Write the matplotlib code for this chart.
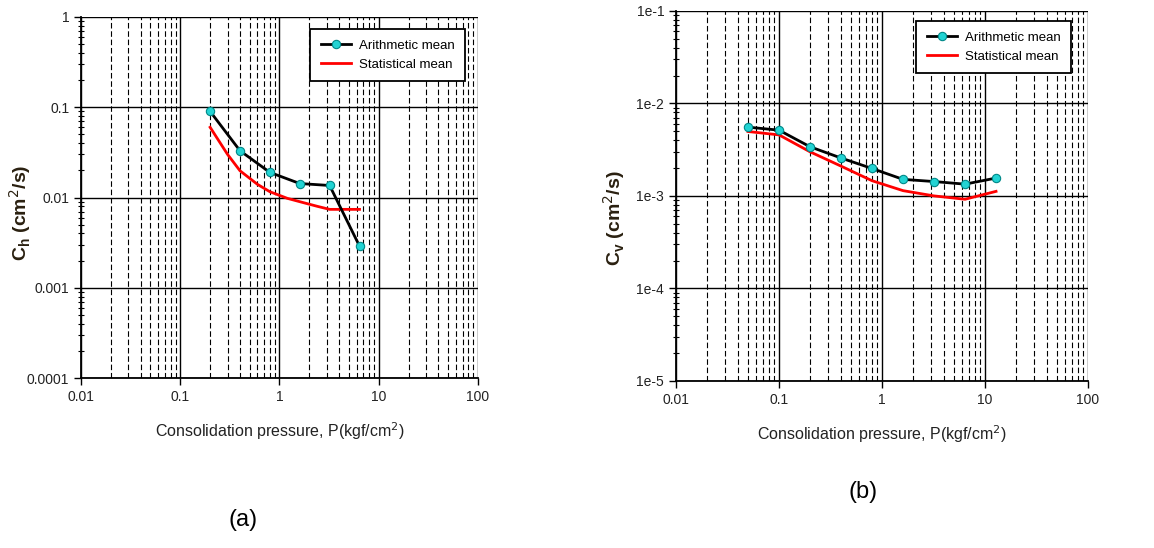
import matplotlib
matplotlib.use("Agg")
import matplotlib.pyplot as plt
from matplotlib.ticker import LogLocator, NullFormatter

plt.rcParams['font.family'] = ['Liberation Sans', 'DejaVu Sans']

# ---- data (a) ----
pa_arith = [0.2, 0.4, 0.8, 1.6, 3.2, 6.4]
ch_arith = [0.090, 0.033, 0.019, 0.0143, 0.0136, 0.0029]
pa_stat = [0.2, 0.3, 0.4, 0.6, 0.8, 1.2, 1.6, 2.4, 3.2, 4.5, 6.4]
ch_stat = [0.060, 0.030, 0.0198, 0.0140, 0.0116, 0.0098, 0.0090, 0.0080, 0.0074, 0.0074, 0.0074]

# ---- data (b) ----
pb = [0.05, 0.1, 0.2, 0.4, 0.8, 1.6, 3.2, 6.4, 12.8]
cv_arith = [0.00554, 0.00514, 0.0034, 0.00257, 0.00198, 0.00151, 0.00143, 0.00134, 0.00156]
cv_stat = [0.00497, 0.00457, 0.0030, 0.0021, 0.00146, 0.00114, 0.00100, 0.00092, 0.00112]

xticks = [0.01, 0.1, 1, 10, 100]
xticklabels = ['0.01', '0.1', '1', '10', '100']
yticks_a = [0.0001, 0.001, 0.01, 0.1, 1]
yticklabels_a = ['0.0001', '0.001', '0.01', '0.1', '1']
yticks_b = [1e-5, 1e-4, 1e-3, 1e-2, 1e-1]
yticklabels_b = ['1e-5', '1e-4', '1e-3', '1e-2', '1e-1']

fig = plt.figure(figsize=(11.54, 5.48), dpi=100)
ax1 = fig.add_axes([0.0702, 0.310, 0.344, 0.659])
ax2 = fig.add_axes([0.5858, 0.305, 0.357, 0.675])


def style(ax, yticks, ylabels):
    ax.set_xscale('log')
    ax.set_yscale('log')
    ax.set_xlim(0.01, 100)
    ax.set_ylim(yticks[0], yticks[-1])
    ax.set_xticks(xticks)
    ax.set_xticklabels(xticklabels)
    ax.set_yticks(yticks)
    ax.set_yticklabels(ylabels)
    ax.xaxis.set_minor_locator(LogLocator(base=10, subs=range(2, 10), numticks=20))
    ax.yaxis.set_minor_locator(LogLocator(base=10, subs=range(2, 10), numticks=20))
    ax.xaxis.set_minor_formatter(NullFormatter())
    ax.yaxis.set_minor_formatter(NullFormatter())
    ax.grid(True, which='major', color='black', linestyle='-', linewidth=1.0)
    ax.grid(True, which='minor', axis='x', color='black', linestyle=(0, (5, 2.5)), linewidth=0.8)
    for s in ['top', 'right']:
        ax.spines[s].set_visible(False)
    for s in ['left', 'bottom']:
        ax.spines[s].set_linewidth(1.3)
    ax.tick_params(which='major', direction='out', length=5, width=1, labelsize=10, colors='black')
    ax.tick_params(which='minor', direction='inout', length=4, width=0.8)
    ax.tick_params(axis='x', which='minor', length=0)
    for lab in ax.get_xticklabels() + ax.get_yticklabels():
        lab.set_color('#222222')


style(ax1, yticks_a, yticklabels_a)
style(ax2, yticks_b, yticklabels_b)

ax1.plot(pa_arith, ch_arith, color='black', linewidth=2, marker='o', markersize=6,
         markerfacecolor='#22d3d3', markeredgecolor='#008888', markeredgewidth=0.8,
         label='Arithmetic mean', zorder=5)
ax1.plot(pa_stat, ch_stat, color='red', linewidth=2, label='Statistical mean', zorder=4)

ax2.plot(pb, cv_arith, color='black', linewidth=2, marker='o', markersize=6,
         markerfacecolor='#22d3d3', markeredgecolor='#008888', markeredgewidth=0.8,
         label='Arithmetic mean', zorder=5)
ax2.plot(pb, cv_stat, color='red', linewidth=2, label='Statistical mean', zorder=4)

for ax, anchor in ((ax1, (0.985, 0.985)), (ax2, (0.975, 0.99))):
    leg = ax.legend(loc='upper right', bbox_to_anchor=anchor, fancybox=False,
                    framealpha=1, edgecolor='black', fontsize=9.5, handlelength=2.3,
                    borderpad=0.8, labelspacing=0.5, handletextpad=0.6)
    leg.get_frame().set_linewidth(1.3)
    ax.set_xlabel('Consolidation pressure, P(kgf/cm$^2$)', fontsize=11.5, color='#222222', labelpad=12)

fig.text(20 / 1154, 1 - 213 / 548, 'C$_\\mathregular{h}$ (cm$^2$/s)', fontsize=14, fontweight='bold',
         color='#2a2010', rotation=90, ha='center', va='center')
fig.text(614 / 1154, 1 - 218 / 548, 'C$_\\mathregular{v}$ (cm$^2$/s)', fontsize=14, fontweight='bold',
         color='#2a2010', rotation=90, ha='center', va='center')

fig.text(243 / 1154, 1 - 520 / 548, '(a)', fontsize=17, ha='center', va='center', color='black')
fig.text(863 / 1154, 1 - 492 / 548, '(b)', fontsize=17, ha='center', va='center', color='black')

fig.savefig('out.png', dpi=100, facecolor='white')
